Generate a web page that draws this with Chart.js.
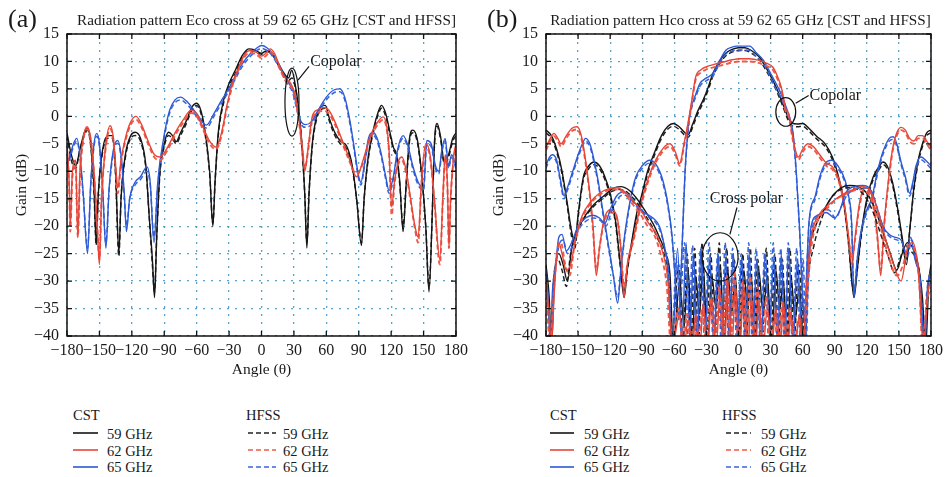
<!DOCTYPE html>
<html><head><meta charset="utf-8">
<script src="https://cdn.jsdelivr.net/npm/chart.js@4.4.0/dist/chart.umd.min.js"></script>
<style>
html,body{margin:0;padding:0;background:#fff;width:948px;height:477px;overflow:hidden;font-family:"Liberation Serif","Times New Roman",serif;color:#1a1a1a}
.abs{position:absolute;white-space:nowrap;line-height:1}
canvas{position:absolute;top:0}
</style></head><body>
<canvas id="ca" width="474" height="400" style="left:0"></canvas>
<canvas id="cb" width="474" height="400" style="left:474px"></canvas>
<div id="texts"></div>
<script>
// ---------- labels ----------
const panelTags = ['(a)', '(b)'];
const panelTitles = ['Radiation pattern Eco cross at 59 62 65 GHz [CST and HFSS]',
                     'Radiation pattern Hco cross at 59 62 65 GHz [CST and HFSS]'];
const toolLabels = ['CST', 'HFSS'];
const freqLabels = ['59 GHz', '62 GHz', '65 GHz'];
const xTitle = 'Angle (θ)';
const yTitle = 'Gain (dB)';
const angleRange = [-180, 180];
const gainRange = [-40, 15];

// ---------- panel (a): Eco, [angle, gain dB] ----------
const ecoCst59 = [[-180,-3],[-176,-7],[-172,-9],[-168,-6],[-164,-3],[-161,-2.2],[-158,-5],[-155,-13],[-153,-23],[-151,-14],[-147,-6],[-142,-3.5],[-138,-3.5],[-135,-10],[-132,-25],[-130,-15],[-126,-7],[-121,-3.5],[-117,-2.9],[-112,-4],[-107,-9],[-104,-18],[-101,-26],[-99,-33],[-97,-22],[-94,-10],[-90,-5],[-86,-2.9],[-82,-3.6],[-79,-4.6],[-75,-3],[-70,-1],[-64,1.8],[-60,2.4],[-56,1],[-52,-3],[-48,-10],[-45,-20],[-43,-12],[-40,-3],[-35,3],[-30,6],[-24,8.5],[-18,11],[-12,12.3],[-6,12.1],[0,11.5],[5,12],[10,11.5],[16,9.5],[21,7.8],[25,7],[28,8.4],[31,6],[34,2],[37,-4],[40,-14],[42,-24],[44,-14],[47,-5],[51,0],[55,1.7],[59,2],[63,-0.5],[68,-3],[73,-4.5],[79,-5.5],[84,-9],[88,-15],[92.5,-23.5],[95,-15],[99,-7],[104,-2],[108,0.8],[111,2],[115,0.5],[119,-3],[122,-5.6],[125,-7],[128,-12],[131,-21],[134,-12],[137,-4],[140,-2.5],[144,-4],[148,-10],[152,-20],[155,-32],[158,-18],[160,-5],[162.5,-1.3],[166,-4],[169,-8.3],[173,-7],[177,-4],[180,-3]];
const ecoCst62 = [[-180,-5],[-178,-12],[-177,-20],[-175,-10],[-172,-8],[-170,-22],[-168,-10],[-165,-4],[-161.5,-1.9],[-158,-4],[-155,-10],[-152,-20],[-150,-27],[-148,-15],[-144,-5],[-140,-1.7],[-137,-4],[-135,-9],[-133,-13],[-130,-8],[-126,-4],[-121,-1],[-116,0],[-111,-1.5],[-105,-4.5],[-99,-7],[-94,-7.4],[-88,-6],[-80,-3],[-72,-0.5],[-65,1.1],[-60,0.5],[-54,-2],[-48,-4.5],[-42,-5.6],[-37,-3],[-32,2],[-27,6],[-21,9],[-15,11.5],[-10,12],[-5,11.7],[0,11],[4,11.5],[8,12.3],[12,11.5],[17,9],[22,7],[27,6],[31,4],[35,-1],[38,-6],[40,-10],[43,-6],[47,0],[52,1.2],[57,1.6],[62,1.2],[68,-1],[74,-4],[80,-7],[88,-11],[94,-8],[100,-4],[106,-1.5],[112.6,-0.1],[116,-2],[118,-6],[120.5,-16.5],[123,-12],[127,-8],[130,-7.4],[134,-10],[138,-15],[142,-20],[145,-22],[148,-12],[152,-5],[156,-7],[160,-15],[165,-26],[168,-14],[170,-7],[172,-12],[173.5,-24],[175,-15],[178,-7],[180,-5]];
const ecoCst65 = [[-180,-9],[-177,-7],[-174,-5],[-171,-4],[-168,-7],[-165,-14],[-161,-25],[-158,-12],[-155,-5],[-152.5,-3.1],[-150,-5],[-147,-13],[-144,-24],[-141,-13],[-137,-6],[-133,-4.4],[-130,-7],[-127,-14],[-125,-21],[-122,-15],[-117,-12],[-112,-11],[-106,-9.2],[-103,-12],[-99.5,-23],[-96,-12],[-91,-4.5],[-85,1.1],[-80,3],[-75,3.5],[-68,2.5],[-60,0.5],[-51,-1.6],[-44,0.5],[-37,2.9],[-32,4.5],[-25,7],[-18,9.5],[-10,11.5],[-4,12.5],[0,12.9],[5,12.5],[10,11.5],[16,9.5],[22,7],[29,4.7],[33,1.5],[36,-0.7],[41,-1.5],[46,-1],[52,1],[60,3.5],[67,4.8],[72.6,5],[77,3.5],[82,-1],[86,-6],[90,-11],[92,-12],[95,-9],[99,-4],[103,-2.9],[107,-4],[111,-7],[115,-11],[118,-13.5],[122,-11],[126,-6],[131,-3.5],[135,-5],[140,-9],[145,-12],[150,-13],[153,-4.4],[157,-5],[161,-9],[164,-10],[167,-6],[170,-4],[173,-9],[176,-7],[180,-9]];
const ecoHfss59 = [[-180,-3.5],[-176,-8],[-172,-9.5],[-168,-6],[-164,-3.5],[-161,-2.5],[-158,-5.5],[-155,-14],[-153,-23.5],[-151,-14],[-147,-6.5],[-142,-4],[-138,-4],[-135,-11],[-132,-25.5],[-130,-15],[-126,-7.5],[-121,-4],[-117,-3.5],[-112,-4.5],[-107,-9.5],[-104,-18],[-101,-27],[-99,-32],[-97,-22],[-94,-10.5],[-90,-5.5],[-86,-3.5],[-82,-4.2],[-79,-5],[-75,-3.5],[-70,-1.5],[-64,1.3],[-60,2],[-56,0.5],[-52,-3.5],[-48,-10.5],[-45,-19.5],[-43,-12],[-40,-3.5],[-35,2.5],[-30,5.5],[-24,8],[-18,10.7],[-12,12],[-6,11.8],[0,11.3],[5,11.8],[10,11.2],[16,9.2],[21,7.5],[25,6.5],[28,7],[31,5.5],[34,1.5],[37,-4.5],[40,-14],[42,-23],[44,-14],[47,-5.5],[51,-0.5],[55,1.2],[59,1.5],[63,-1],[68,-3.5],[73,-5],[79,-6],[84,-9.5],[88,-15],[92.5,-23],[95,-15],[99,-7.5],[104,-2.5],[108,0.3],[111,1.5],[115,0],[119,-3.5],[122,-6],[125,-7.5],[128,-12.5],[131,-20],[134,-12],[137,-4.5],[140,-3],[144,-4.5],[148,-10.5],[152,-20],[155,-31],[158,-18],[160,-5.5],[162.5,-1.8],[166,-4.5],[169,-8.5],[173,-7.5],[177,-4.5],[180,-3.5]];
const ecoHfss62 = [[-180,-6],[-178,-13],[-177,-21],[-175,-11],[-172,-9],[-170,-22],[-168,-11],[-165,-4.5],[-161.5,-2.3],[-158,-4.5],[-155,-10.5],[-152,-20],[-150,-26],[-148,-15],[-144,-5.5],[-140,-2.3],[-137,-4.5],[-135,-9.5],[-133,-14],[-130,-8.5],[-126,-4.5],[-121,-1.5],[-116,-0.6],[-111,-2],[-105,-5],[-99,-7.5],[-94,-8],[-88,-6.5],[-80,-3.5],[-72,-1],[-65,0.6],[-60,0],[-54,-2.5],[-48,-5],[-42,-6],[-37,-3.5],[-32,1.5],[-27,5.5],[-21,8.6],[-15,11],[-10,11.6],[-5,11.3],[0,10.6],[4,11],[8,11.8],[12,11],[17,8.6],[22,6.6],[27,5.5],[31,3.5],[35,-1.5],[38,-6.5],[40,-9.5],[43,-6.5],[47,-0.5],[52,0.7],[57,1],[62,0.6],[68,-1.5],[74,-4.5],[80,-7.5],[88,-10.5],[94,-8.5],[100,-4.5],[106,-2],[112.6,-0.6],[116,-2.5],[118,-6.5],[120.5,-18],[123,-12.5],[127,-8.5],[130,-8],[134,-10.5],[138,-15.5],[142,-20.5],[145,-23],[148,-12.5],[152,-5.5],[156,-7.5],[160,-15.5],[165,-27],[168,-14.5],[170,-7.5],[172,-12.5],[173.5,-24],[175,-15.5],[178,-7.5],[180,-6]];
const ecoHfss65 = [[-180,-9.5],[-177,-7.5],[-174,-5.5],[-171,-4.5],[-168,-7.5],[-165,-14.5],[-161,-24],[-158,-12.5],[-155,-5.5],[-152.5,-3.6],[-150,-5.5],[-147,-13.5],[-144,-23],[-141,-13.5],[-137,-6.5],[-133,-4.9],[-130,-7.5],[-127,-14.5],[-125,-20],[-122,-15],[-117,-12.5],[-112,-11.5],[-106,-10],[-103,-12.5],[-99.5,-22],[-96,-12.5],[-91,-5],[-85,0.6],[-80,2.5],[-75,3],[-68,2],[-60,0],[-51,-2.1],[-44,0],[-37,2.4],[-32,4],[-25,6.5],[-18,9],[-10,11],[-4,12],[0,12.4],[5,12],[10,11],[16,9],[22,6.5],[29,4.2],[33,1],[36,-1.2],[41,-2],[46,-1.5],[52,0.5],[60,3],[67,4.3],[72.6,4.5],[77,3],[82,-1.5],[86,-6.5],[90,-11.5],[92,-12.5],[95,-9.5],[99,-4.5],[103,-3.4],[107,-4.5],[111,-7.5],[115,-11.5],[118,-14],[122,-11.5],[126,-6.5],[131,-4],[135,-5.5],[140,-9.5],[145,-12.5],[150,-13.5],[153,-5],[157,-5.5],[161,-9.5],[164,-10.5],[167,-6.5],[170,-4.5],[173,-9.5],[176,-7.5],[180,-9.5]];

// ---------- panel (b): Hco copolar ----------
const hcoCst59 = [[-180,-2.5],[-175,-3.5],[-170,-6],[-165,-10],[-160,-16],[-156,-21],[-153,-23],[-150,-18],[-145,-11],[-140,-9],[-135,-8.3],[-130,-9],[-125,-11],[-120,-14],[-115,-19],[-111,-26],[-107,-33],[-104,-28],[-100,-23],[-95,-17.5],[-91,-14.7],[-85,-10],[-79,-6.8],[-72,-3.5],[-66,-1.8],[-61,-1.3],[-56,-1.8],[-50,-3],[-47,-3.3],[-43,-1.5],[-38,1],[-33,3],[-28,5.5],[-24,7.8],[-18,10],[-12,11.5],[-6,12.2],[0,12.5],[6,12.5],[12,12],[19.5,10.8],[26,8.8],[32,6.6],[37,4.5],[41.5,2.3],[46,0],[50,-1.2],[55,-1.4],[60,-1.3],[66,-2.2],[73,-3.6],[81,-5],[88,-7.5],[93.5,-11],[98,-15],[103,-23],[106,-30],[108,-33],[111,-28],[115,-21],[120,-15],[126,-11],[132,-9],[135,-8.3],[139,-9],[144,-12],[149,-17],[153,-22],[157,-27],[160,-21],[164,-13],[168,-8],[172,-5],[176,-3],[180,-2.5]];
const hcoCst62 = [[-180,-5.6],[-176,-4],[-172.6,-3.1],[-169,-4],[-166,-5],[-161,-3.5],[-156,-2.2],[-151,-1.9],[-147,-3.5],[-143,-8],[-139,-14],[-136,-20],[-133,-29],[-130,-24],[-126,-19],[-120,-17],[-114,-18],[-110,-24],[-107,-33],[-104,-27],[-98,-22],[-92,-16.5],[-86,-12.3],[-80,-9],[-74,-6.8],[-68,-5.3],[-64,-5],[-59,-6.5],[-55,-8.6],[-51,-5],[-47,-1],[-44,2.5],[-40,7.2],[-35,8.5],[-30.5,9],[-22,9.5],[-14,9.9],[-6,10.3],[1,10.5],[10,10.5],[19.5,10.2],[26,9.7],[32,9],[36,7.5],[40,5.3],[44.6,1.1],[47,0.5],[50,-3],[53,-6],[56,-7.4],[60,-6],[65,-5],[70,-5.5],[76,-7],[82,-8.5],[88,-9.2],[94,-11.5],[99,-16],[103,-22],[106,-27],[109,-22],[113,-16],[118,-13],[123,-13.5],[127,-17],[130,-22],[133,-29],[136,-20],[140,-12],[144,-6],[148,-3],[152,-2],[156,-2.5],[160,-4],[164,-4.5],[168,-3.5],[172,-3.5],[176,-4.5],[180,-5.6]];
const hcoCst65 = [[-180,-9],[-177,-7.5],[-174,-7],[-170,-8],[-167,-11],[-163,-14.5],[-160,-13],[-155,-10],[-150,-7],[-146,-5],[-143,-4],[-139,-5],[-135,-8],[-131,-12],[-127,-17],[-122,-23],[-117,-29],[-113,-34],[-110,-28],[-106,-21],[-101,-15],[-96,-11],[-90,-9],[-83,-8],[-77,-8.8],[-71,-11.5],[-66,-16],[-62,-22],[-59,-30],[-56,-37],[-53,-25],[-50,-10],[-47,-2],[-45,1],[-40,4],[-36,6],[-30,7],[-24,7.8],[-18,10],[-12,12],[-6,12.6],[-2,12.8],[4,12.8],[10.5,12.8],[17,11.5],[23,10.3],[29,8.2],[35,6],[40,4],[44.5,1.7],[48,-0.3],[51,-3],[54,-10],[57,-20],[60,-33],[62,-38],[64,-27],[66,-19],[71.8,-14.5],[76,-11],[81,-8.6],[87,-8],[93,-9],[99.8,-11.7],[103,-14.5],[105.7,-19],[108,-33],[111,-26],[115,-20.5],[120,-17],[124.5,-15],[130,-10],[135,-6.5],[141,-4],[144.6,-3.7],[148,-5],[152,-8.3],[156,-11],[160,-14],[163,-12],[166,-9],[170.7,-7.4],[175,-8],[180,-9]];
const hcoHfss59 = [[-180,-3],[-175,-4],[-170,-6.5],[-165,-10.5],[-160,-16.5],[-156,-22],[-153,-24],[-150,-18.5],[-145,-11.5],[-140,-9.5],[-135,-8.8],[-130,-9.5],[-125,-11.5],[-120,-14.5],[-115,-19.5],[-111,-26.5],[-107,-32],[-104,-28],[-100,-23.5],[-95,-18],[-91,-15.2],[-85,-10.5],[-79,-7.3],[-72,-4],[-66,-2.3],[-61,-1.8],[-56,-2.3],[-50,-3.5],[-47,-3.8],[-43,-2],[-38,0.5],[-33,2.5],[-28,5],[-24,7.3],[-18,9.5],[-12,11],[-6,11.7],[0,12],[6,12],[12,11.5],[19.5,10.3],[26,8.3],[32,6.1],[37,4],[41.5,1.8],[46,-0.5],[50,-1.7],[55,-1.9],[60,-1.8],[66,-2.7],[73,-4.1],[81,-5.5],[88,-8],[93.5,-11.5],[98,-15.5],[103,-23.5],[106,-30],[108,-32],[111,-28],[115,-21.5],[120,-15.5],[126,-11.5],[132,-9.5],[135,-8.8],[139,-9.5],[144,-12.5],[149,-17.5],[153,-22.5],[157,-26],[160,-21],[164,-13.5],[168,-8.5],[172,-5.5],[176,-3.5],[180,-3]];
const hcoHfss62 = [[-180,-6.2],[-176,-4.5],[-172.6,-3.6],[-169,-4.5],[-166,-5.5],[-161,-4],[-156,-2.7],[-151,-2.4],[-147,-4],[-143,-8.5],[-139,-14.5],[-136,-21],[-133,-28],[-130,-24],[-126,-19.5],[-120,-17.5],[-114,-18.5],[-110,-24],[-107,-31],[-104,-27],[-98,-22.5],[-92,-17],[-86,-12.8],[-80,-9.5],[-74,-7.3],[-68,-5.8],[-64,-5.5],[-59,-7],[-55,-9],[-51,-5.5],[-47,-1.5],[-44,2],[-40,6.7],[-35,8],[-30.5,8.5],[-22,9],[-14,9.4],[-6,9.8],[1,10],[10,10],[19.5,9.7],[26,9.2],[32,8.5],[36,7],[40,4.8],[44.6,0.6],[47,0],[50,-3.5],[53,-6.5],[56,-7.9],[60,-6.5],[65,-5.5],[70,-6],[76,-7.5],[82,-9],[88,-9.7],[94,-12],[99,-16.5],[103,-22.5],[106,-26],[109,-22.5],[113,-16.5],[118,-13.5],[123,-14],[127,-17.5],[130,-22.5],[133,-28],[136,-20.5],[140,-12.5],[144,-6.5],[148,-3.5],[152,-2.5],[156,-3],[160,-4.5],[164,-5],[168,-4],[172,-4],[176,-5],[180,-6.2]];
const hcoHfss65 = [[-180,-9.5],[-177,-8],[-174,-7.5],[-170,-8.5],[-167,-11.5],[-163,-15],[-160,-13.5],[-155,-10.5],[-150,-7.5],[-146,-5.5],[-143,-4.5],[-139,-5.5],[-135,-8.5],[-131,-12.5],[-127,-17.5],[-122,-23.5],[-117,-29],[-113,-33],[-110,-28],[-106,-21.5],[-101,-15.5],[-96,-11.5],[-90,-9.5],[-83,-8.5],[-77,-9.3],[-71,-12],[-66,-16.5],[-62,-22.5],[-59,-30],[-56,-36],[-53,-25],[-50,-10.5],[-47,-2.5],[-45,0.5],[-40,3.5],[-36,5.5],[-30,6.5],[-24,7.3],[-18,9.5],[-12,11.3],[-6,11.9],[-2,12.1],[4,12.1],[10.5,12],[17,10.8],[23,9.6],[29,7.5],[35,5],[40,3.3],[44.5,1],[48,-0.8],[51,-3.5],[54,-10.5],[57,-20.5],[60,-32],[62,-36],[64,-27],[66,-19.5],[71.8,-15],[76,-11.5],[81,-9.1],[87,-8.5],[93,-9.5],[99.8,-12.2],[103,-15],[105.7,-19.5],[108,-32],[111,-26],[115,-21],[120,-17.5],[124.5,-15.5],[130,-10.5],[135,-7],[141,-4.5],[144.6,-4.2],[148,-5.5],[152,-8.8],[156,-11.5],[160,-14.5],[163,-12.5],[166,-9.5],[170.7,-7.9],[175,-8.5],[180,-9.5]];

// ---------- panel (b): cross polar ----------
const xpolCst59 = [[-180,-27],[-177,-33],[-175,-42],[-172,-29],[-168,-25],[-164,-27],[-160,-30],[-156,-24],[-150,-20.5],[-143,-18],[-135,-16],[-126,-14.5],[-118,-13.2],[-110,-12.8],[-102,-13.5],[-95,-15],[-88,-17],[-80,-19.5],[-74,-22],[-68,-25],[-64,-29],[-61,-42],[-55,-30],[-51,-38],[-47,-28],[-43.5,-42],[-40,-29],[-36.5,-36],[-33,-27],[-29,-42],[-25,-29],[-21,-35],[-17,-27],[-13.5,-42],[-10,-28],[-6.5,-36],[-3,-29],[1,-42],[5,-28],[8.5,-35],[12,-29],[15.5,-42],[19,-28],[23,-36],[27,-29],[31,-42],[35,-28],[38.5,-35],[42,-30],[45.5,-42],[49,-29],[53,-37],[57,-31],[61,-42],[64,-32],[66,-25],[72,-20],[80,-17],[88,-14.5],[96,-13],[104,-12.6],[112,-12.8],[120,-14],[128,-17],[135,-21],[142,-25],[148,-28],[153,-25],[158,-23],[163,-24],[168,-27],[172,-33],[175,-42],[178,-30],[180,-27]];
const xpolCst62 = [[-180,-30],[-177,-36],[-175,-42],[-172,-31],[-168,-23],[-165,-25],[-161,-28],[-157,-27],[-152,-22],[-146,-18],[-138,-15.5],[-130,-14],[-122,-13.2],[-114,-13],[-106,-13.8],[-98,-15.5],[-90,-17.5],[-84,-19.5],[-78,-21],[-72,-24],[-66,-30],[-62,-42],[-55,-36],[-51,-42],[-47,-37],[-43,-42],[-40,-36],[-36,-42],[-33,-34],[-29,-42],[-25,-33],[-21,-42],[-17,-32],[-13,-42],[-10,-30],[-6,-42],[-3,-31],[1,-42],[5,-31],[9,-42],[12,-33],[16,-42],[19,-34],[23,-42],[27,-35],[31,-42],[35,-35],[39,-42],[42,-34],[46,-42],[49,-36],[53,-42],[57,-36],[60,-42],[64,-30],[68,-22],[75,-18],[85,-16],[95,-14.5],[105,-13.5],[115,-12.8],[123,-13.5],[130,-17],[137,-22],[145,-27],[152,-30],[158,-24],[163,-23],[168,-28],[173,-42],[177,-32],[180,-30]];
const xpolCst65 = [[-180,-28],[-178,-33],[-176,-42],[-174,-32],[-171,-27],[-168,-22],[-165,-21.5],[-161,-24.5],[-156,-23],[-150,-20],[-143,-18.5],[-136,-18],[-130,-18.5],[-125,-19.5],[-120,-17],[-114,-14.5],[-108,-13.8],[-102,-14.5],[-96,-16],[-88,-17.5],[-80,-18.5],[-74,-20],[-70,-23],[-66,-28],[-62,-42],[-57,-24],[-53,-42],[-49,-23],[-45.5,-40],[-42,-25],[-38.5,-42],[-35,-24],[-31,-38],[-27,-26],[-23,-42],[-19,-25],[-15.5,-40],[-12,-26],[-8.5,-42],[-5,-25],[-1,-40],[3,-26],[6.5,-42],[10,-25],[13.5,-40],[17,-26],[21,-42],[25,-25],[29,-38],[33,-26],[36.5,-42],[40,-25],[43.5,-40],[47,-24],[51,-42],[55,-26],[59,-40],[62,-42],[65,-28],[68,-20],[74,-18],[82,-17.5],[90,-18.5],[95,-17],[100,-14],[108,-12.8],[116,-12.6],[124,-13.5],[130,-17],[135,-20],[141,-21.5],[146,-22],[152,-22.5],[157,-25],[161,-22],[165,-26],[170,-30],[174,-42],[177,-31],[180,-28]];
const xpolHfss59 = [[-180,-28],[-178,-35],[-176,-42],[-173,-30],[-169,-26],[-165,-28],[-161,-31],[-157,-25],[-151,-21],[-144,-18.5],[-136,-16.5],[-127,-15],[-119,-13.7],[-111,-13.3],[-103,-14],[-96,-15.5],[-89,-17.5],[-81,-20],[-75,-22.5],[-69,-25.5],[-65,-30],[-62,-42],[-60,-36],[-56,-27],[-52,-42],[-48,-25],[-44.5,-42],[-41,-24],[-37.5,-42],[-34,-23],[-30,-42],[-26,-25],[-22,-42],[-18,-23],[-14.5,-42],[-11,-24],[-7.5,-42],[-4,-26],[0,-42],[4,-25],[7.5,-42],[11,-24],[14.5,-42],[18,-26],[22,-42],[26,-24],[30,-42],[34,-25],[37.5,-42],[41,-26],[44.5,-42],[48,-24],[52,-42],[56,-27],[60,-36],[62,-42],[65,-30],[70,-24],[78,-18.5],[86,-15],[94,-13.5],[102,-13],[110,-13.2],[118,-14.5],[126,-17.5],[133,-21.5],[140,-25.5],[146,-28.5],[151,-26],[156,-23.5],[161,-24.5],[166,-26],[170,-30],[174,-42],[177,-31],[180,-28]];
const xpolHfss62 = [[-180,-31],[-178,-38],[-176,-42],[-173,-33],[-169,-24],[-166,-23],[-162,-27],[-158,-29],[-153,-23],[-147,-19],[-139,-16],[-131,-14.5],[-123,-13.5],[-115,-13.3],[-107,-14],[-99,-16],[-91,-18],[-85,-20],[-79,-21.5],[-73,-25],[-67,-31],[-63,-42],[-56,-35],[-52,-42],[-48,-36],[-44.5,-42],[-41,-38],[-37.5,-42],[-34,-35],[-30,-42],[-26,-33],[-22,-42],[-18,-31],[-14.5,-42],[-11,-29],[-7.5,-42],[-4,-28],[0,-42],[4,-30],[7.5,-42],[11,-29],[14.5,-42],[18,-31],[22,-42],[26,-33],[30,-42],[34,-36],[37.5,-42],[41,-34],[44.5,-42],[48,-35],[52,-42],[56,-37],[60,-42],[64,-33],[68,-24],[74,-19],[82,-17],[92,-15],[102,-14],[112,-13.3],[120,-13.8],[127,-16.5],[134,-21],[141,-26],[148,-29],[154,-27],[159,-23.5],[164,-24],[169,-30],[172,-42],[176,-34],[180,-31]];
const xpolHfss65 = [[-180,-29],[-177,-36],[-175,-42],[-173,-31],[-170,-26],[-167,-23],[-164,-22.5],[-160,-25],[-155,-23.5],[-149,-20.5],[-142,-19],[-135,-18.5],[-129,-19],[-124,-20],[-119,-17.5],[-113,-15],[-107,-14.3],[-101,-15],[-95,-16.5],[-87,-18],[-79,-19],[-73,-21],[-69,-24],[-65,-29],[-62,-42],[-58.5,-26],[-54.5,-34],[-50.5,-23],[-46.5,-42],[-43,-23.5],[-39.5,-42],[-35.5,-24],[-31.5,-42],[-27.5,-23],[-23.5,-42],[-19.5,-25],[-16,-42],[-12.5,-23],[-9,-42],[-5.5,-24],[-1.5,-42],[2.5,-25],[6,-42],[9.5,-23],[13,-42],[16.5,-24],[20.5,-42],[24.5,-25],[28.5,-42],[32.5,-23],[36,-42],[39.5,-24],[43,-42],[46.5,-23],[50.5,-42],[54.5,-24],[58,-42],[60.5,-26],[63,-42],[66,-26],[70,-19.5],[76,-18],[84,-17],[91,-18.5],[96,-16.5],[101,-14.5],[109,-13.3],[117,-13],[125,-14],[131,-17.5],[136,-20.5],[142,-22],[148,-22.5],[153,-23],[158,-25.5],[162,-22.5],[166,-26.5],[170,-31],[173,-42],[176,-32],[180,-29]];

// ---------- annotations (data units: angle, dB) ----------
const notesA = [
  {ellipse:[28.2, 2.6, 6.5, 6.2]},
  {line:[33.8, 6.6, 44, 9.1]},
  {text:'Copolar', at:[45, 10.0], align:'left'}
];
const notesB = [
  {ellipse:[44.2, 0.8, 9.3, 2.6]},
  {line:[53.5, 2.4, 65.6, 3.8]},
  {text:'Copolar', at:[66.5, 3.8], align:'left'},
  {ellipse:[-17.2, -25.6, 16.8, 4.4]},
  {line:[-8, -21.5, -1.4, -16.6]},
  {text:'Cross polar', at:[7.4, -15.1], align:'center'}
];

// ---------- styling ----------
const FF = '"Liberation Serif", "Times New Roman", serif';
const TXT = '#1a1a1a';
const solidColors = ['#151515', '#e4473a', '#2d5ad4'];
const dashColors  = ['#202020', '#ef5a48', '#3a64dc'];
const GRID = 'rgba(55,150,195,0.85)';

function ds(pairs, fi, dashed) {
  return {
    data: pairs.map(p => ({x: p[0], y: p[1]})),
    borderColor: dashed ? dashColors[fi] : solidColors[fi],
    borderWidth: dashed ? (fi === 1 ? 1.9 : 1.5) : 1.4,
    borderDash: dashed ? [5, 3] : [],
    pointRadius: 0, fill: false, cubicInterpolationMode: 'monotone'
  };
}
const fmt = v => v < 0 ? '\u2212' + Math.abs(v) : String(v);

function framePlugin(notes) {
  return {
    id: 'frame',
    afterDatasetsDraw(chart) {
      const {ctx, chartArea: a, scales: {x, y}} = chart;
      ctx.save();
      ctx.setLineDash([]);
      ctx.strokeStyle = '#111'; ctx.lineWidth = 1.5;
      ctx.strokeRect(a.left, a.top, a.right - a.left, a.bottom - a.top);
      ctx.lineWidth = 1.3; ctx.beginPath();
      x.ticks.forEach(t => { const p = x.getPixelForValue(t.value);
        ctx.moveTo(p, a.bottom); ctx.lineTo(p, a.bottom - 5); ctx.moveTo(p, a.top); ctx.lineTo(p, a.top + 5); });
      y.ticks.forEach(t => { const p = y.getPixelForValue(t.value);
        ctx.moveTo(a.left, p); ctx.lineTo(a.left + 5, p); ctx.moveTo(a.right, p); ctx.lineTo(a.right - 5, p); });
      ctx.stroke();
      ctx.lineWidth = 1.2; ctx.strokeStyle = '#111'; ctx.fillStyle = TXT;
      ctx.font = '16px ' + FF; ctx.textBaseline = 'middle';
      notes.forEach(n => {
        if (n.ellipse) {
          const [c0, c1, r0, r1] = n.ellipse;
          const cx = x.getPixelForValue(c0), cy = y.getPixelForValue(c1);
          const rx = Math.abs(x.getPixelForValue(c0 + r0) - cx), ry = Math.abs(y.getPixelForValue(c1 + r1) - cy);
          ctx.beginPath(); ctx.ellipse(cx, cy, rx, ry, 0, 0, Math.PI * 2); ctx.stroke();
        } else if (n.line) {
          const [a0, a1, b0, b1] = n.line;
          ctx.beginPath(); ctx.moveTo(x.getPixelForValue(a0), y.getPixelForValue(a1));
          ctx.lineTo(x.getPixelForValue(b0), y.getPixelForValue(b1)); ctx.stroke();
        } else if (n.text) {
          ctx.textAlign = n.align;
          ctx.fillText(n.text, x.getPixelForValue(n.at[0]), y.getPixelForValue(n.at[1]));
        }
      });
      ctx.restore();
    }
  };
}

function makeChart(id, datasets, leftW, rightPad, titlePadY, notes) {
  return new Chart(document.getElementById(id), {
    type: 'line',
    data: {datasets},
    options: {
      responsive: false, animation: false, devicePixelRatio: 1,
      layout: {padding: {top: 34, right: rightPad, left: 0, bottom: 0}},
      plugins: {legend: {display: false}, tooltip: {enabled: false}, title: {display: false}},
      scales: {
        x: {type: 'linear', min: angleRange[0], max: angleRange[1],
            ticks: {stepSize: 30, autoSkip: false, maxRotation: 0, minRotation: 0, padding: 5,
                    font: {family: FF, size: 16}, color: TXT, callback: fmt},
            grid: {color: GRID, lineWidth: 1.3, drawTicks: false},
            border: {display: false, dash: [2, 6]},
            title: {display: true, text: xTitle, font: {family: FF, size: 15.5}, color: TXT, padding: {top: 0, bottom: 21}},
            afterFit: s => { s.height = 64; }},
        y: {type: 'linear', min: gainRange[0], max: gainRange[1],
            ticks: {stepSize: 5, autoSkip: false, padding: 8, font: {family: FF, size: 16}, color: TXT, callback: fmt},
            grid: {color: GRID, lineWidth: 1.3, drawTicks: false},
            border: {display: false, dash: [2, 6]},
            title: {display: true, text: yTitle, font: {family: FF, size: 15.5}, color: TXT, padding: {top: titlePadY, bottom: 0}},
            afterFit: s => { s.width = leftW; }}
      }
    },
    plugins: [framePlugin(notes)]
  });
}

const dsA = [
  ds(ecoCst62, 1, false), ds(ecoHfss62, 1, true),
  ds(ecoCst65, 2, false), ds(ecoHfss65, 2, true),
  ds(ecoCst59, 0, false), ds(ecoHfss59, 0, true)
];
const dsB = [
  ds(xpolCst62, 1, false), ds(xpolHfss62, 1, true),
  ds(xpolCst65, 2, false), ds(xpolHfss65, 2, true),
  ds(xpolCst59, 0, false), ds(xpolHfss59, 0, true),
  ds(hcoCst62, 1, false), ds(hcoHfss62, 1, true),
  ds(hcoCst65, 2, false), ds(hcoHfss65, 2, true),
  ds(hcoCst59, 0, false), ds(hcoHfss59, 0, true)
];
makeChart('ca', dsA, 67, 18, 13, notesA);
makeChart('cb', dsB, 72, 15, 16, notesB);

// ---------- HTML texts: tags, titles, legends ----------
const T = document.getElementById('texts');
function addText(txt, left, top, size, center) {
  const d = document.createElement('div');
  d.className = 'abs'; d.textContent = txt;
  d.style.left = left + 'px'; d.style.top = top + 'px'; d.style.fontSize = size + 'px';
  if (center) d.style.transform = 'translateX(-50%)';
  T.appendChild(d);
}
function addLine(x1, x2, yy, color, dashed) {
  const ns = 'http://www.w3.org/2000/svg';
  const s = document.createElementNS(ns, 'svg');
  s.setAttribute('width', x2 - x1); s.setAttribute('height', 4);
  s.style.position = 'absolute'; s.style.left = x1 + 'px'; s.style.top = (yy - 2) + 'px';
  const l = document.createElementNS(ns, 'line');
  l.setAttribute('x1', 0); l.setAttribute('x2', x2 - x1); l.setAttribute('y1', 2); l.setAttribute('y2', 2);
  l.setAttribute('stroke', color); l.setAttribute('stroke-width', 1.6);
  if (dashed) l.setAttribute('stroke-dasharray', '5,3');
  s.appendChild(l); T.appendChild(s);
}
const panelsX = [0, 474];
const tagX = [8, 13];
const titleCX = [266.5, 266.5];
const legCst = [[73, 98, 107], [76, 100, 110]];
const legHfss = [[246, 248, 276, 283], [248, 252, 277, 287]];
const rowTops = [426.9, 443.6, 460.2];
const rowLines = [433, 450, 467];
panelsX.forEach((ox, p) => {
  addText(panelTags[p], ox + tagX[p], 6, 26, false);
  addText(panelTitles[p], ox + titleCX[p], 12.2, 15.2, true);
  addText(toolLabels[0], ox + legCst[p][0], 407.9, 14.5, false);
  addText(toolLabels[1], ox + legHfss[p][0], 407.9, 14.5, false);
  freqLabels.forEach((f, i) => {
    addLine(ox + legCst[p][0], ox + legCst[p][1], rowLines[i], solidColors[i], false);
    addText(f, ox + legCst[p][2], rowTops[i], 14.5, false);
    addLine(ox + legHfss[p][1], ox + legHfss[p][2], rowLines[i], dashColors[i], true);
    addText(f, ox + legHfss[p][3], rowTops[i], 14.5, false);
  });
});
</script>
</body></html>
